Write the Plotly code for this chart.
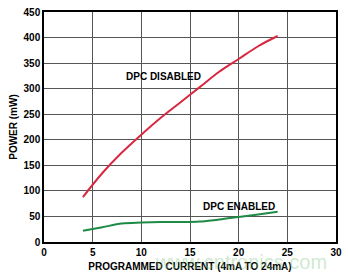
import plotly.graph_objects as go

current_ma = [4, 6, 8, 10, 12, 14, 16, 18, 20, 22, 24]
power_disabled = [88, 135, 175, 210, 243, 273, 303, 333, 358, 383, 403]
power_enabled = [22, 29, 36, 38, 39, 39, 40, 44, 49, 54, 59]

x_ticks = [0, 5, 10, 15, 20, 25, 30]
y_ticks = [0, 50, 100, 150, 200, 250, 300, 350, 400, 450]

font = dict(family="Liberation Sans, Arial, sans-serif", size=10, color="black")

fig = go.Figure()
fig.add_trace(go.Scatter(x=current_ma, y=power_disabled, mode="lines",
                         line=dict(color="#d8283f", width=2, shape="spline"), showlegend=False))
fig.add_trace(go.Scatter(x=current_ma, y=power_enabled, mode="lines",
                         line=dict(color="#1d8a45", width=2, shape="spline"), showlegend=False))

fig.add_annotation(x=12.3, y=323, text="<b>DPC DISABLED</b>", showarrow=False,
                   font=dict(family=font["family"], size=10, color="black"))
fig.add_annotation(x=20, y=70, text="<b>DPC ENABLED</b>", showarrow=False,
                   font=dict(family=font["family"], size=10, color="black"))
fig.add_annotation(xref="paper", yref="paper", x=0.676, y=-0.085, text="www.cntronics.com",
                   showarrow=False, yanchor="middle", xanchor="center",
                   font=dict(family="Liberation Sans, Arial, sans-serif", size=20,
                             color="rgba(130,200,130,0.4)"))

fig.update_layout(
    width=348, height=277,
    margin=dict(l=44, r=8, t=6, b=35),
    paper_bgcolor="white", plot_bgcolor="white",
    font=font,
    xaxis=dict(range=[0, 30], tickvals=x_ticks, ticktext=[f"<b>{v}</b>" for v in x_ticks],
               showgrid=True, gridcolor="#555", gridwidth=1,
               showline=True, linecolor="black", linewidth=1.5, mirror=True,
               ticks="", zeroline=False,
               title=dict(text="<b>PROGRAMMED CURRENT (4mA TO 24mA)</b>", standoff=6,
                          font=dict(size=10))),
    yaxis=dict(range=[0, 450], tickvals=y_ticks, ticktext=[f"<b>{v}</b>" for v in y_ticks],
               showgrid=True, gridcolor="#555", gridwidth=1,
               showline=True, linecolor="black", linewidth=1.5, mirror=True,
               ticks="", zeroline=False,
               title=dict(text="<b>POWER (mW)</b>", standoff=4, font=dict(size=10))),
)

fig.write_html("out.html")
